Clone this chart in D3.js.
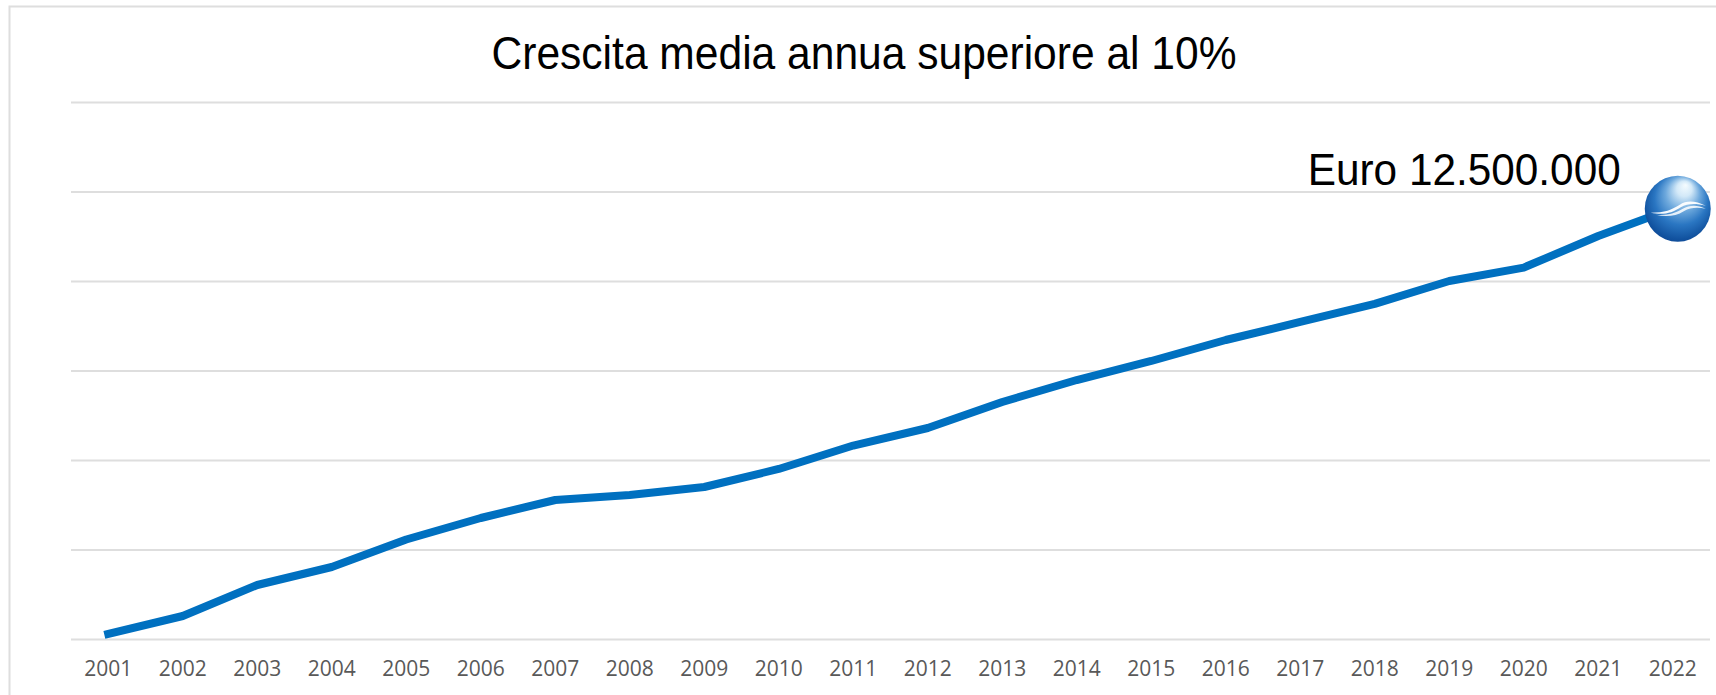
<!DOCTYPE html>
<meta charset="utf-8">
<style>
  html, body { margin: 0; padding: 0; background: #fff; overflow: hidden; }
  svg { display: block; }
  .x-axis text { font-family: "Open Sans", sans-serif; font-size: 21px; fill: #595959; }
  .x-axis path, .x-axis line { display: none; }
  .grid text, .grid path { display: none; }
  .grid line { stroke: #dedede; stroke-width: 2px; }
  .big-label { font-family: "Liberation Sans", Arial, sans-serif; fill: #000; }
</style>
<div id="chart"></div>
<script src="https://d3js.org/d3.v7.min.js"></script>
<script>
var years = ["2001","2002","2003","2004","2005","2006","2007","2008","2009","2010","2011",
             "2012","2013","2014","2015","2016","2017","2018","2019","2020","2021","2022"];
// values in euro (the axis has no labels, last one is the annotated one)
var revenue = [145000,668000,1569000,2092000,2890000,3515000,4038000,4183000,4416000,4940000,5620000,
               6130000,6885000,7524000,8076000,8686000,9210000,9735000,10400000,10790000,11707000,12500000];
var gridValues = [0,2600000,5200000,7800000,10400000,13000000,15600000];
var titleText = "Crescita media annua superiore al 10%";
var endLabel = "Euro 12.500.000";

var width = 1716, height = 695;
var margin = { top: 102, right: 6, bottom: 56, left: 71 };
var w = width - margin.left - margin.right,
    h = height - margin.top - margin.bottom;

var svg = d3.select("#chart").append("svg")
    .attr("width", width)
    .attr("height", height);

var defs = svg.append("defs");
var ballFill = defs.append("radialGradient")
    .attr("id", "ball-fill")
    .attr("cx", "0.5").attr("cy", "0.5").attr("r", "0.72")
    .attr("fx", "0.62").attr("fy", "0.14");
[["0%", "#f5fcff"], ["16%", "#d3e9f8"], ["36%", "#6ea9dd"], ["56%", "#2a76c2"],
 ["76%", "#11529f"], ["90%", "#0c3f8c"], ["100%", "#3a78b8"]].forEach(function(s) {
    ballFill.append("stop").attr("offset", s[0]).attr("stop-color", s[1]);
});

// page frame, only the top and left edges are in the picture
svg.append("path")
    .attr("d", "M9.5,695V6.5H1716")
    .attr("fill", "none")
    .attr("stroke", "#dedede")
    .attr("stroke-width", 2);

var g = svg.append("g")
    .attr("transform", "translate(" + margin.left + "," + margin.top + ")");

var x = d3.scaleBand().domain(years).range([0, w]);
var y = d3.scaleLinear().domain([0, 15600000]).range([537, 0]);

g.append("g")
    .attr("class", "grid")
    .call(d3.axisLeft(y).tickValues(gridValues).tickSize(-w).tickFormat(""));

g.append("g")
    .attr("class", "x-axis")
    .attr("transform", "translate(0,537)")
    .call(d3.axisBottom(x).tickSize(0).tickPadding(22));

var line = d3.line()
    .x(function(d, i) { return x(years[i]) + x.bandwidth() / 2; })
    .y(function(d) { return y(d); });

g.append("path")
    .datum(revenue)
    .attr("d", line)
    .attr("fill", "none")
    .attr("stroke", "#0070c0")
    .attr("stroke-width", 8)
    .attr("stroke-linecap", "square")
    .attr("stroke-linejoin", "round");

// logo ball on the last point
var last = years.length - 1;
var ball = g.append("g")
    .attr("transform", "translate(" + (x(years[last]) + x.bandwidth() / 2 + 5) + "," + y(revenue[last]) + ")");
ball.append("circle").attr("r", 33).attr("fill", "url(#ball-fill)");
ball.append("path")
    .attr("d", "M-27,4C-13,4 -6,1 2,-4C9,-9 18,-8 28,-3C18,-5.5 10,-5.5 3,-1.5C-6,4.5 -14,6.5 -27,4Z")
    .attr("fill", "#fff").attr("opacity", 0.95);
ball.append("path")
    .attr("d", "M-22,6C-10,7 -2,4 5,0C12,-4 20,-4 28,0C20,-1.5 13,-1.5 6,2.5C-2,7.5 -12,8.5 -22,6Z")
    .attr("fill", "#fff").attr("opacity", 0.85);

svg.append("text")
    .attr("class", "big-label")
    .attr("x", 864).attr("y", 69)
    .attr("text-anchor", "middle")
    .attr("font-size", 46)
    .attr("textLength", 745)
    .attr("lengthAdjust", "spacingAndGlyphs")
    .text(titleText);

g.append("text")
    .attr("class", "big-label")
    .attr("x", x(years[last]) + x.bandwidth() / 2 - 52)
    .attr("y", y(revenue[last]) - 24)
    .attr("text-anchor", "end")
    .attr("font-size", 44)
    .attr("textLength", 313)
    .attr("lengthAdjust", "spacingAndGlyphs")
    .text(endLabel);
</script>
